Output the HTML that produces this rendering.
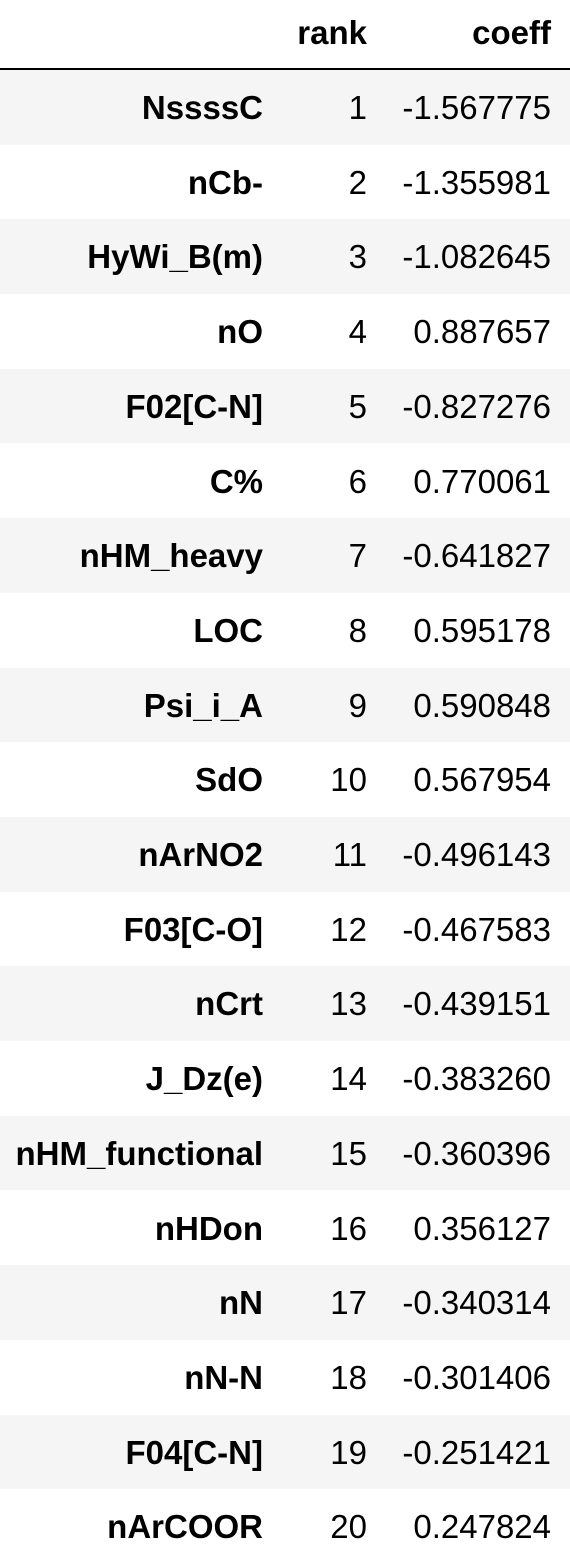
<!DOCTYPE html>
<html><head><meta charset="utf-8"><style>
body{margin:0;width:570px;height:1564px;background:#fff;font-family:"Liberation Sans",Arial,sans-serif;overflow:hidden;position:relative}
.c{position:absolute;font-size:33px;color:#000;text-align:right;white-space:nowrap;line-height:36px}
.b{font-weight:bold}
.row{position:absolute;left:0;width:570px;height:74.7px}
</style></head><body>
<div class="c b" style="right:203px;top:15px">rank</div>
<div class="c b" style="right:19px;top:15px">coeff</div>
<div style="position:absolute;left:0;top:68px;width:570px;height:2px;background:#000"></div>
<script>
const names=["NssssC","nCb-","HyWi_B(m)","nO","F02[C-N]","C%","nHM_heavy","LOC","Psi_i_A","SdO","nArNO2","F03[C-O]","nCrt","J_Dz(e)","nHM_functional","nHDon","nN","nN-N","F04[C-N]","nArCOOR"];
const ranks=[1,2,3,4,5,6,7,8,9,10,11,12,13,14,15,16,17,18,19,20];
const coeffs=["-1.567775","-1.355981","-1.082645","0.887657","-0.827276","0.770061","-0.641827","0.595178","0.590848","0.567954","-0.496143","-0.467583","-0.439151","-0.383260","-0.360396","0.356127","-0.340314","-0.301406","-0.251421","0.247824"];
const body=document.body;
for(let i=0;i<names.length;i++){
  const top=70+i*74.7;
  const r=document.createElement('div');
  r.className='row';r.style.top=top+'px';r.style.background=i%2===0?'#f5f5f5':'#fff';
  
  
  body.appendChild(r);
  const mk=(txt,right,bold,nm)=>{const d=document.createElement('div');d.className='c'+(bold?' b':'');d.textContent=txt;d.style.right=right+'px';d.style.top=(top+20)+'px';
    
    
    body.appendChild(d);};
  mk(names[i],307,true,'row-label');
  mk(String(ranks[i]),203,false,'rank-cell');
  mk(coeffs[i],19,false,'coeff-cell');
}
</script>
</body></html>
